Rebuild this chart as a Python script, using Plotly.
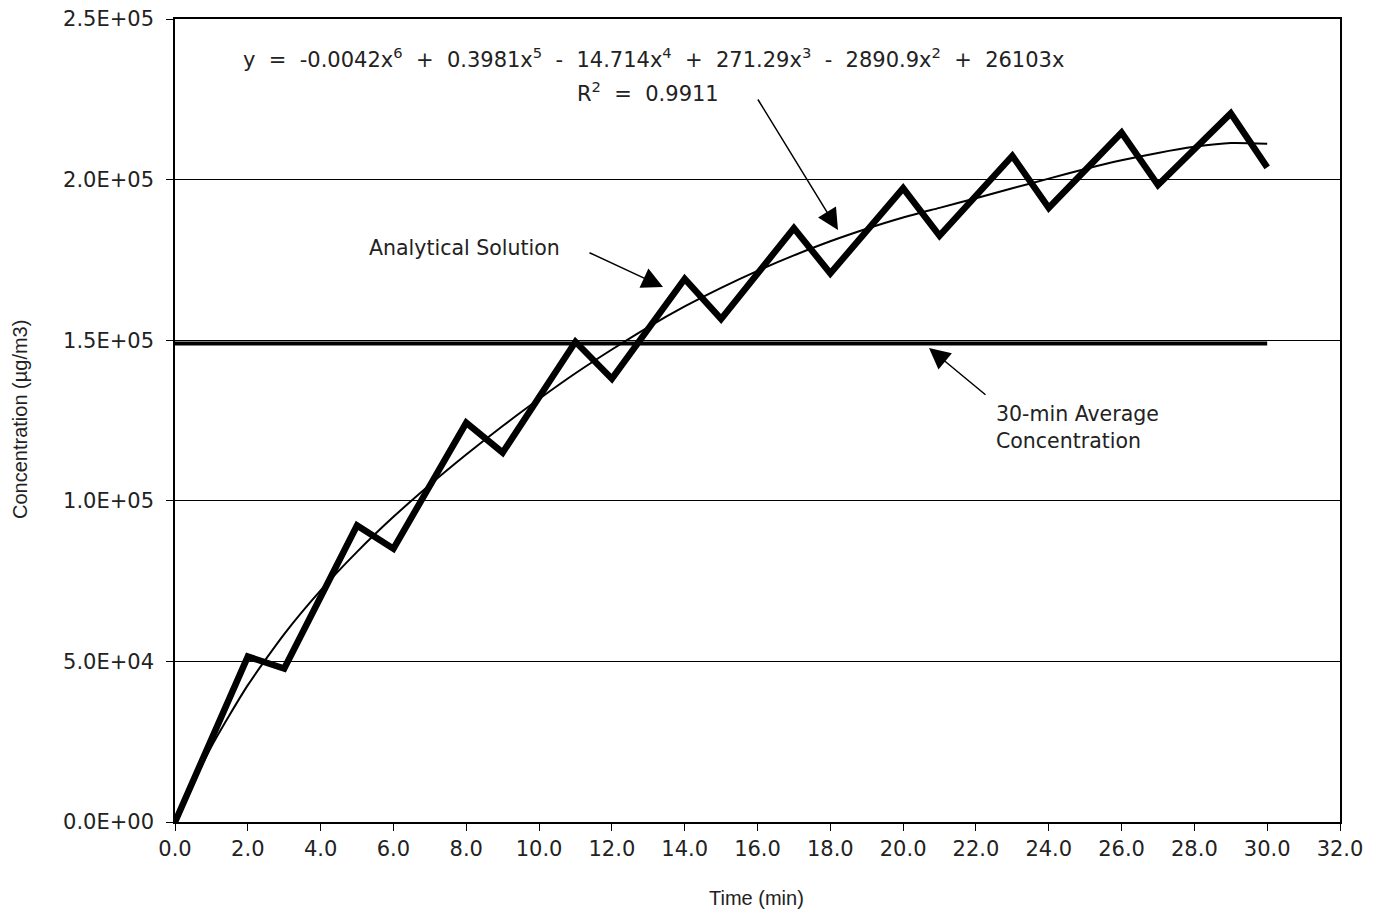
import plotly.graph_objects as go

# ---- data ----
time_min = [0, 2, 3, 5, 6, 8, 9, 11, 12, 14, 15, 17, 18, 20, 21, 23, 24, 26, 27, 29, 30]
concentration = [0, 51500, 47800, 92300, 85100, 124300, 115000, 149500, 138000, 169100,
                 156600, 184900, 170800, 197300, 182500, 207400, 191200, 214600, 198300,
                 220600, 203800]

trend_time = list(range(0, 31))
trend_conc = [0, 23500, 42600, 58500, 72100, 84100, 95000, 105000, 114400, 123300,
              131700, 139700, 147100, 154100, 160500, 166300, 171600, 176400, 180800,
              184700, 188200, 191200, 194200, 197300, 200300, 203300, 206000, 208300,
              210200, 211400, 211200]

avg_time = [0, 30]
avg_conc = [149000, 149000]

x_tickvals = [0, 2, 4, 6, 8, 10, 12, 14, 16, 18, 20, 22, 24, 26, 28, 30, 32]
x_ticktext = ["0.0", "2.0", "4.0", "6.0", "8.0", "10.0", "12.0", "14.0", "16.0", "18.0",
              "20.0", "22.0", "24.0", "26.0", "28.0", "30.0", "32.0"]
y_tickvals = [0, 50000, 100000, 150000, 200000, 250000]
y_ticktext = ["0.0E+00", "5.0E+04", "1.0E+05", "1.5E+05", "2.0E+05", "2.5E+05"]

FONT = "DejaVu Sans"
TITLE_FONT = "Liberation Sans"
TXT = "#222222"

# page (browser) pixel geometry of the plot area; the page body has an 8px margin
OFF = 8
PL, PR, PT, PB = 175, 1340, 19, 822

fig = go.Figure()
fig.add_trace(go.Scatter(x=avg_time, y=avg_conc, mode="lines",
                         line=dict(color="black", width=4), showlegend=False))
fig.add_trace(go.Scatter(x=time_min, y=concentration, mode="lines",
                         line=dict(color="black", width=6.5), showlegend=False,
                         cliponaxis=False))
fig.add_trace(go.Scatter(x=trend_time, y=trend_conc, mode="lines",
                         line=dict(color="black", width=2, shape="spline", smoothing=0.6),
                         showlegend=False))

W, H = 1366, 907
fig.update_layout(
    width=W, height=H,
    margin=dict(l=PL - OFF, r=OFF + W - PR, t=PT - OFF, b=OFF + H - PB, autoexpand=False),
    paper_bgcolor="white", plot_bgcolor="white",
    font=dict(family=FONT, color=TXT),
    xaxis=dict(range=[0, 32], tickvals=x_tickvals, ticktext=x_ticktext,
               showgrid=False, zeroline=False, showline=True, linecolor="black",
               linewidth=1.5, mirror=True, ticks="outside", ticklen=7, tickwidth=1,
               tickcolor="black", tickfont=dict(size=21, family=FONT, color=TXT),
               automargin=False, ticklabeloverflow="allow"),
    yaxis=dict(range=[0, 250000], tickvals=y_tickvals, ticktext=y_ticktext,
               showgrid=True, gridcolor="black", gridwidth=1, zeroline=False,
               showline=True, linecolor="black", linewidth=1.5, mirror=True,
               ticks="outside", ticklen=7, tickwidth=1, tickcolor="black",
               tickfont=dict(size=21, family=FONT, color=TXT),
               ticklabelstandoff=8, automargin=False, ticklabeloverflow="allow"),
)


def px(xp, yp):
    return (xp - PL) / (PR - PL), (PB - yp) / (PB - PT)


# axis titles
x_, y_ = px(756, 898)
fig.add_annotation(xref="paper", yref="paper", x=x_, y=y_, text="Time (min)",
                   showarrow=False, font=dict(size=20, family=TITLE_FONT, color=TXT),
                   xanchor="center", yanchor="middle")
x_, y_ = px(20, 420)
fig.add_annotation(xref="paper", yref="paper", x=x_, y=y_, text="Concentration (µg/m3)",
                   showarrow=False, textangle=-90,
                   font=dict(size=20, family=TITLE_FONT, color=TXT),
                   xanchor="center", yanchor="middle")

S = "&nbsp;"
eq_text = (f"y {S}={S} -0.0042x<sup>6</sup> {S}+{S} 0.3981x<sup>5</sup> {S}-{S} 14.714x<sup>4</sup>"
           f" {S}+{S} 271.29x<sup>3</sup> {S}-{S} 2890.9x<sup>2</sup> {S}+{S} 26103x")
ann_font = dict(size=20.5, family=FONT, color=TXT)

x_, y_ = px(653, 58)
fig.add_annotation(xref="paper", yref="paper", x=x_, y=y_, text=eq_text,
                   showarrow=False, font=dict(size=21, family=FONT, color=TXT),
                   xanchor="center", yanchor="middle")
x_, y_ = px(648, 92)
fig.add_annotation(xref="paper", yref="paper", x=x_, y=y_, text=f"R<sup>2</sup> {S}={S} 0.9911",
                   showarrow=False, font=dict(size=21, family=FONT, color=TXT),
                   xanchor="center", yanchor="middle")
x_, y_ = px(464, 248)
fig.add_annotation(xref="paper", yref="paper", x=x_, y=y_, text="Analytical Solution",
                   showarrow=False, font=ann_font, xanchor="center", yanchor="middle")
x_, y_ = px(994, 427)
fig.add_annotation(xref="paper", yref="paper", x=x_, y=y_,
                   text="30-min Average<br>Concentration", showarrow=False, font=ann_font,
                   xanchor="left", yanchor="middle", align="left")

# arrows (tail -> head, page pixel positions)
for (tx, ty), (hx, hy) in [((757, 98), (838, 230)), ((588, 252), (663, 287)), ((987, 396), (929, 348))]:
    hxp, hyp = px(hx, hy)
    fig.add_annotation(xref="paper", yref="paper", x=hxp, y=hyp, ax=tx - hx, ay=ty - hy,
                       axref="pixel", ayref="pixel", text="", showarrow=True,
                       arrowhead=2, arrowsize=2.8, arrowwidth=1.5, arrowcolor="black")

fig.write_html("out.html")
